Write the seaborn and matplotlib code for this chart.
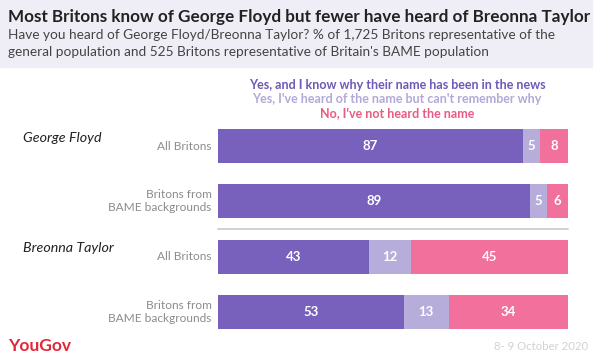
import matplotlib
matplotlib.use("Agg")
import matplotlib.pyplot as plt
import seaborn as sns
import pandas as pd
import numpy as np

sns.set_theme(style="white")
plt.rcParams['font.family'] = ['Lato', 'DejaVu Sans']

groups = ["George Floyd", "George Floyd", "Breonna Taylor", "Breonna Taylor"]
rows = ["All Britons", "Britons from\nBAME backgrounds", "All Britons", "Britons from\nBAME backgrounds"]
know_why = [87, 89, 43, 53]
heard_only = [5, 5, 12, 13]
not_heard = [8, 6, 45, 34]
series_names = ["Yes, and I know why their name has been in the news",
                "Yes, I've heard of the name but can't remember why",
                "No, I've not heard the name"]
colors = ["#7761bd", "#b6addb", "#f1709c"]
legend_colors = ["#6e59b6", "#b2a9d8", "#e95a84"]

row_ids = [f"r{i}" for i in range(len(rows))]
df = pd.DataFrame({"row": row_ids, "a": know_why, "b": heard_only, "c": not_heard})
df["ab"] = df["a"] + df["b"]
df["abc"] = df["ab"] + df["c"]

fig = plt.figure(figsize=(5.94, 3.62), dpi=100)
fig.patch.set_facecolor("white")

# header band
fig.patches.append(plt.Rectangle((0, 1 - 67 / 362), 592 / 594, 67 / 362,
                                 transform=fig.transFigure, color="#efeef6", zorder=0))

ax = fig.add_axes([218 / 594, (362 - 339.6) / 362, 350 / 594, 221.2 / 362])
for col, c in zip(["abc", "ab", "a"], [colors[2], colors[1], colors[0]]):
    sns.barplot(data=df, x=col, y="row", orient="h", color=c, width=0.615,
                ax=ax, saturation=1, linewidth=0)
ax.set_xlim(0, 100)
ax.set_ylim(3.5, -0.5)
ax.axis("off")

# separator
ax.plot([0, 100], [1.5, 1.5], color="#c8c8c8", lw=1.2, clip_on=False)

# value labels
for i in range(len(rows)):
    starts = [0, know_why[i], know_why[i] + heard_only[i]]
    vals = [know_why[i], heard_only[i], not_heard[i]]
    for s, v in zip(starts, vals):
        ax.text(s + v / 2, i, str(v), ha="center", va="center", color="white",
                fontsize=9.5, fontweight="bold")

# row labels
for i, r in enumerate(rows):
    ax.text(-1.8, i, r, ha="right", va="center", color="#8c8c8c", fontsize=8.6,
            linespacing=1.25, transform=ax.transData)

# group labels
fig.text(23 / 594, 1 - 138 / 362, "George Floyd", fontsize=10.3, style="italic",
         color="#222222", va="center", ha="left")
fig.text(23 / 594, 1 - 248 / 362, "Breonna Taylor", fontsize=10.3, style="italic",
         color="#222222", va="center", ha="left")

# legend
for k, (name, lc) in enumerate(zip(series_names, legend_colors)):
    fig.text(397 / 594, 1 - (85 + 14 * k) / 362, name, ha="center", va="center",
             color=lc, fontsize=9, fontweight="bold")

# title and subtitle
fig.text(8 / 594, 1 - 17 / 362, "Most Britons know of George Floyd but fewer have heard of Breonna Taylor",
         fontsize=12.3, fontweight="bold", color="#222222", va="center", ha="left")
fig.text(8 / 594, 1 - 35 / 362, "Have you heard of George Floyd/Breonna Taylor? % of 1,725 Britons representative of the",
         fontsize=9.85, color="#444444", va="center", ha="left")
fig.text(8 / 594, 1 - 52 / 362, "general population and 525 Britons representative of Britain's BAME population",
         fontsize=9.85, color="#444444", va="center", ha="left")

# footer
fig.text(8 / 594, 1 - 346 / 362, "YouGov", fontsize=12.5, fontweight="bold", color="#e0283a",
         va="center", ha="left")
fig.text(588 / 594, 1 - 346 / 362, "8- 9 October 2020", fontsize=8.2, color="#d2d2d2",
         va="center", ha="right")

fig.savefig("out.png", dpi=100, facecolor="white")
